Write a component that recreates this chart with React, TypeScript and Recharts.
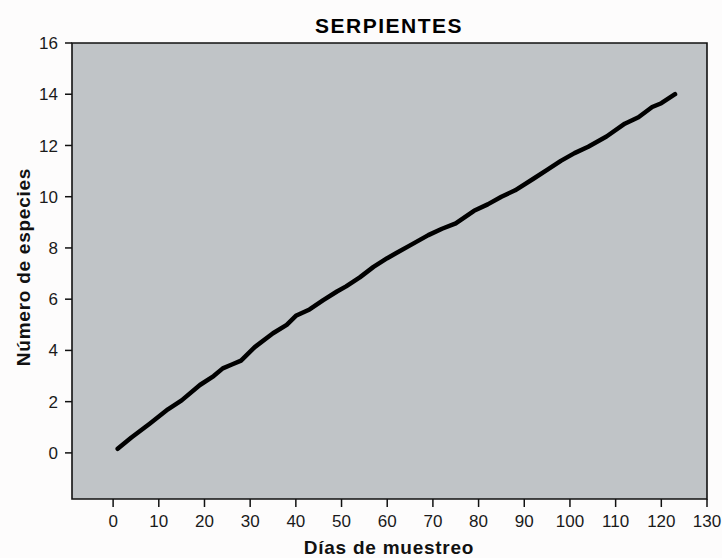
import React from "react";
import { LineChart, Line, XAxis, YAxis, ReferenceArea } from "recharts";

const days = [1, 4, 8, 12, 15, 19, 22, 24, 26, 28, 31, 35, 38, 40, 43, 46, 49, 51, 54, 57, 60, 62, 65, 69, 72, 75, 79, 82, 85, 88, 92, 95, 98, 101, 104, 108, 112, 115, 118, 120, 123];
const species = [0.16, 0.6, 1.14, 1.7, 2.05, 2.65, 3.0, 3.3, 3.45, 3.6, 4.13, 4.67, 5.0, 5.35, 5.6, 5.96, 6.3, 6.5, 6.85, 7.26, 7.6, 7.8, 8.1, 8.5, 8.75, 8.96, 9.45, 9.7, 10.0, 10.25, 10.7, 11.05, 11.4, 11.7, 11.95, 12.35, 12.85, 13.1, 13.5, 13.65, 14.0];
const xTicks = [0, 10, 20, 30, 40, 50, 60, 70, 80, 90, 100, 110, 120, 130];
const yTicks = [0, 2, 4, 6, 8, 10, 12, 14, 16];
const title = "SERPIENTES";
const xLabel = "Días de muestreo";
const yLabel = "Número de especies";

const data = days.map((d, i) => ({ day: d, n: species[i] }));

const FONT = "'Liberation Sans', Arial, Helvetica, sans-serif";

export default function App() {
  return (
    <div style={{ position: "absolute", left: 0, top: 0, width: 722, height: 558, background: "#fdfcfc" }}>
      <LineChart
        width={722}
        height={558}
        data={data}
        margin={{ top: 43, left: 30, right: 15, bottom: 19 }}
        style={{ fontFamily: FONT }}
      >
        <ReferenceArea
          x1={-9}
          x2={130}
          y1={-1.8}
          y2={16}
          fill="#c0c4c7"
          fillOpacity={1}
          stroke="#111"
          strokeWidth={1.6}
          ifOverflow="extendDomain"
        />
        <XAxis
          dataKey="day"
          type="number"
          domain={[-9, 130]}
          ticks={xTicks}
          allowDataOverflow
          height={40}
          axisLine={false}
          tickLine={{ stroke: "#111", strokeWidth: 1.5 }}
          tickSize={8}
          tickMargin={8}
          tick={{ fill: "#1a1a1a", fontSize: 17, fontFamily: FONT }}
          interval={0}
        />
        <YAxis
          type="number"
          domain={[-1.8, 16]}
          ticks={yTicks}
          allowDataOverflow
          width={42}
          axisLine={false}
          tickLine={{ stroke: "#111", strokeWidth: 1.5 }}
          tickSize={7}
          tickMargin={7}
          tick={{ fill: "#1a1a1a", fontSize: 17, fontFamily: FONT }}
          interval={0}
        />
        <Line
          type="linear"
          dataKey="n"
          stroke="#000"
          strokeWidth={4.5}
          dot={false}
          strokeLinecap="round"
          strokeLinejoin="round"
          isAnimationActive={false}
        />
        <text x={389} y={33} textAnchor="middle" fontSize={21} fontWeight="bold" letterSpacing={1.5} fill="#000" fontFamily={FONT}>
          {title}
        </text>
        <text x={389} y={554} textAnchor="middle" fontSize={19} fontWeight="bold" letterSpacing={0.75} fill="#111" fontFamily={FONT}>
          {xLabel}
        </text>
        <text
          x={0}
          y={0}
          transform="translate(30,267) rotate(-90)"
          textAnchor="middle"
          fontSize={19}
          fontWeight="bold"
          letterSpacing={0.75}
          fill="#111"
          fontFamily={FONT}
        >
          {yLabel}
        </text>
      </LineChart>
    </div>
  );
}
